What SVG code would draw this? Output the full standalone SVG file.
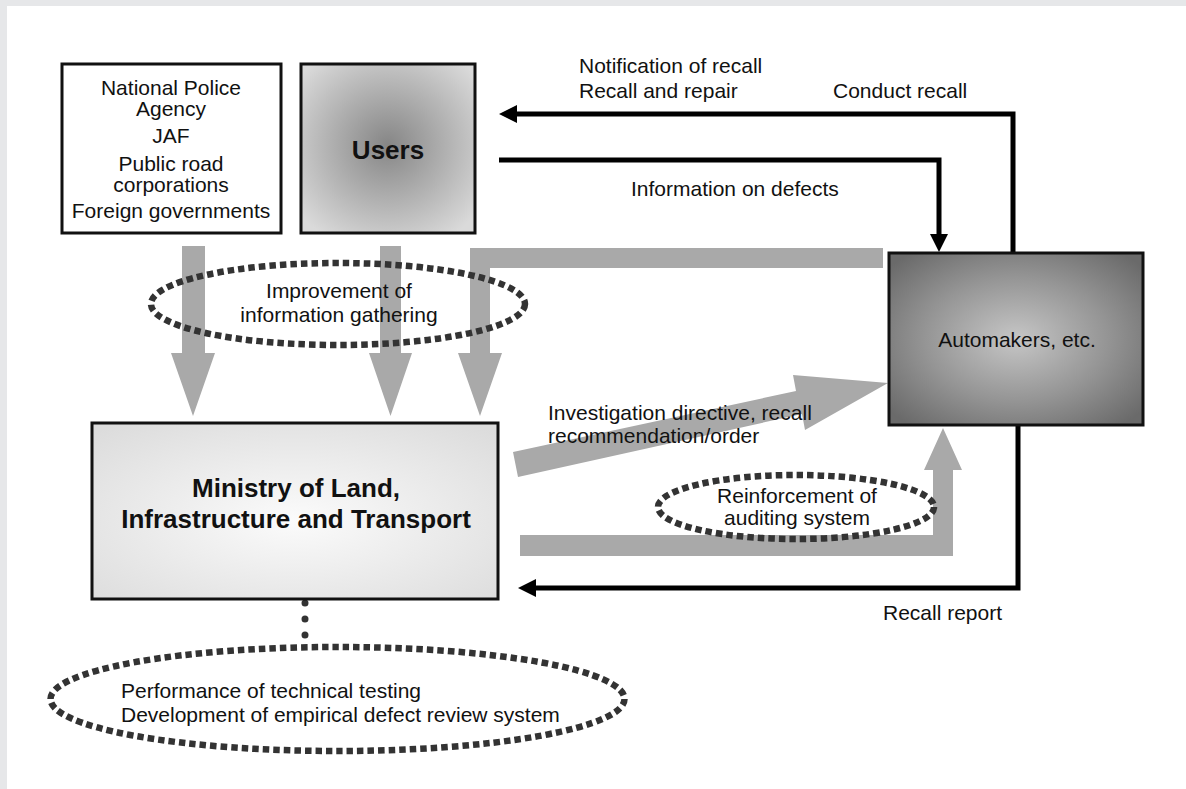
<svg xmlns="http://www.w3.org/2000/svg" width="1186" height="789" viewBox="0 0 1186 789">
  <defs>
    <style>
      text { font-family: "Liberation Sans", Arial, sans-serif; fill: #111; }
      .t { font-size: 21px; }
      .tc { font-size: 21px; text-anchor: middle; }
      .bold { font-size: 26px; font-weight: bold; text-anchor: middle; }
      .box { stroke: #111; stroke-width: 3; }
      .gray { fill: #a9a9a9; }
      .blk { fill: none; stroke: #000; stroke-width: 5; }
      .dotted { fill: none; stroke: #333; stroke-width: 6.5; stroke-dasharray: 6.5 4; }
    </style>
    <radialGradient id="gUsers" cx="50%" cy="48%" r="65%">
      <stop offset="0%" stop-color="#868686"/>
      <stop offset="55%" stop-color="#b4b4b4"/>
      <stop offset="100%" stop-color="#dadada"/>
    </radialGradient>
    <radialGradient id="gAuto" cx="50%" cy="50%" r="65%">
      <stop offset="0%" stop-color="#c6c6c6"/>
      <stop offset="55%" stop-color="#959595"/>
      <stop offset="100%" stop-color="#6a6a6a"/>
    </radialGradient>
    <radialGradient id="gMin" cx="50%" cy="55%" r="70%">
      <stop offset="0%" stop-color="#fbfbfb"/>
      <stop offset="100%" stop-color="#dcdcdc"/>
    </radialGradient>
    <marker id="ah" markerUnits="userSpaceOnUse" markerWidth="18" markerHeight="18" refX="8" refY="9" orient="auto">
      <path d="M0,0 L18,9 L0,18 z" fill="#000"/>
    </marker>
  </defs>

  <rect x="0" y="0" width="1186" height="789" fill="#e6e7e9"/>
  <rect x="7" y="6" width="1179" height="783" fill="#ffffff"/>

  <g id="connectors">
    <polygon class="gray" points="182,246 205,246 205,353 215,353 193,416 171,353 182,353"/>
    <polygon class="gray" points="380,246 401,246 401,353 412,353 390.5,416 369,353 380,353"/>
    <polygon class="gray" points="883,248 470,248 470,353 458,353 480,416 502,353 490,353 490,268 883,268"/>
    <polygon class="gray" points="513,452 796,391 793,375 888,383 805,430 802,414 518,477"/>
    <polygon class="gray" points="520,535 933,535 933,470 924,470 943,428 962,470 953,470 953,556 520,556"/>
    <polyline class="blk" points="1013,253 1013,114 509,114" marker-end="url(#ah)"/>
    <polyline class="blk" points="499,160 939,160 939,242" marker-end="url(#ah)"/>
    <polyline class="blk" points="1018,425 1018,588 528,588" marker-end="url(#ah)"/>
    <line x1="305" y1="603" x2="305" y2="636" stroke="#333" stroke-width="7" stroke-linecap="round" stroke-dasharray="0 16"/>
  </g>

  <g id="npa">
    <rect class="box" x="62" y="64" width="219" height="169" fill="#ffffff"/>
    <text class="tc" x="171" y="95">National Police</text>
    <text class="tc" x="171" y="116">Agency</text>
    <text class="tc" x="171" y="143">JAF</text>
    <text class="tc" x="171" y="171">Public road</text>
    <text class="tc" x="171" y="192">corporations</text>
    <text class="tc" x="171" y="218">Foreign governments</text>
  </g>

  <g id="users">
    <rect class="box" x="301" y="64" width="174" height="169" fill="url(#gUsers)"/>
    <text class="bold" x="388" y="159">Users</text>
  </g>

  <g id="automakers">
    <rect class="box" x="889" y="253" width="254" height="172" fill="url(#gAuto)"/>
    <text class="tc" x="1017" y="347">Automakers, etc.</text>
  </g>

  <g id="ministry">
    <rect class="box" x="92" y="423" width="406" height="176" fill="url(#gMin)"/>
    <text class="bold" x="296" y="497">Ministry of Land,</text>
    <text class="bold" x="296" y="528">Infrastructure and Transport</text>
  </g>

  <g id="info-gathering">
    <ellipse class="dotted" cx="338" cy="304" rx="187" ry="41"/>
    <text class="tc" x="339" y="298">Improvement of</text>
    <text class="tc" x="339" y="322">information gathering</text>
  </g>

  <g id="auditing">
    <ellipse class="dotted" cx="796" cy="507" rx="138" ry="32"/>
    <text class="tc" x="797" y="503">Reinforcement of</text>
    <text class="tc" x="797" y="525">auditing system</text>
  </g>

  <g id="testing">
    <ellipse class="dotted" cx="337.5" cy="699" rx="287" ry="52"/>
    <text class="t" x="121" y="698">Performance of technical testing</text>
    <text class="t" x="121" y="722">Development of empirical defect review system</text>
  </g>

  <g id="labels">
    <text class="t" x="579" y="73">Notification of recall</text>
    <text class="t" x="579" y="98">Recall and repair</text>
    <text class="t" x="833" y="98">Conduct recall</text>
    <text class="t" x="631" y="196">Information on defects</text>
    <text class="t" x="548" y="420">Investigation directive, recall</text>
    <text class="t" x="548" y="443">recommendation/order</text>
    <text class="t" x="883" y="620">Recall report</text>
  </g>
</svg>
